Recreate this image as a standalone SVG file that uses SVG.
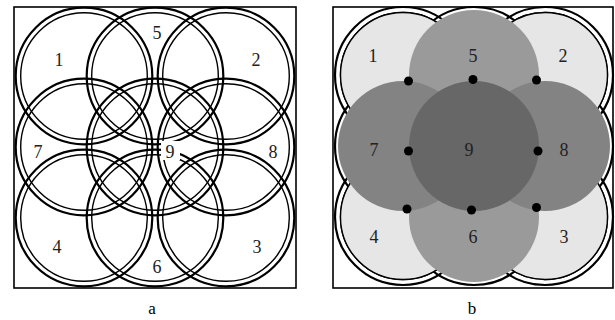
<svg xmlns="http://www.w3.org/2000/svg" width="615" height="320" viewBox="0 0 615 320">
<style>
.box{fill:none;stroke:#000;stroke-width:1.6}
.ro{fill:none;stroke:#000;stroke-width:2.2}
.ri{fill:none;stroke:#000;stroke-width:1.4}
.lbl{font-family:"Liberation Serif","Times New Roman",serif;font-size:18px;fill:#222;text-anchor:middle}
.cap{font-family:"Liberation Serif","Times New Roman",serif;font-size:17px;fill:#000;text-anchor:middle}
.corner{fill:#e6e6e6;stroke:#000;stroke-width:1.4}
.c56{fill:#9a9a9a}
.c78{fill:#838383}
.c9{fill:#676767}
.dot{fill:#000}
</style>
<rect width="615" height="320" fill="#fff"/>

<!-- Panel a -->
<g id="panel-a">
  <rect class="box" x="14" y="7" width="282" height="281"/>
  <g id="a-n1"><circle class="ro" cx="84" cy="76" r="68.3"/><circle class="ri" cx="84" cy="76" r="63.3"/></g>
  <g id="a-n5"><circle class="ro" cx="155" cy="76" r="68.3"/><circle class="ri" cx="155" cy="76" r="63.3"/></g>
  <g id="a-n2"><circle class="ro" cx="226" cy="76" r="68.3"/><circle class="ri" cx="226" cy="76" r="63.3"/></g>
  <g id="a-n7"><circle class="ro" cx="84" cy="147" r="68.3"/><circle class="ri" cx="84" cy="147" r="63.3"/></g>
  <g id="a-n9"><circle class="ro" cx="155" cy="147" r="68.3"/><circle class="ri" cx="155" cy="147" r="63.3"/></g>
  <g id="a-n8"><circle class="ro" cx="226" cy="147" r="68.3"/><circle class="ri" cx="226" cy="147" r="63.3"/></g>
  <g id="a-n4"><circle class="ro" cx="84" cy="218" r="68.3"/><circle class="ri" cx="84" cy="218" r="63.3"/></g>
  <g id="a-n6"><circle class="ro" cx="155" cy="218" r="68.3"/><circle class="ri" cx="155" cy="218" r="63.3"/></g>
  <g id="a-n3"><circle class="ro" cx="226" cy="218" r="68.3"/><circle class="ri" cx="226" cy="218" r="63.3"/></g>
  <g id="a-labels">
    <text class="lbl" x="59" y="66">1</text>
    <text class="lbl" x="157" y="39">5</text>
    <text class="lbl" x="256" y="66">2</text>
    <text class="lbl" x="38" y="158">7</text>
    <rect x="161" y="141" width="19" height="19" fill="#fff"/>
    <text class="lbl" x="170" y="158">9</text>
    <text class="lbl" x="273" y="158">8</text>
    <text class="lbl" x="57" y="253">4</text>
    <text class="lbl" x="157" y="273">6</text>
    <text class="lbl" x="257" y="253">3</text>
  </g>
  <text class="cap" x="152" y="314">a</text>
</g>

<!-- Panel b -->
<g id="panel-b">
  <rect class="box" x="333" y="7" width="280" height="281"/>
  <g id="b-rings">
    <circle class="ro" cx="403" cy="75" r="68"/><circle class="ri" cx="403" cy="75" r="62.5"/>
    <circle class="ro" cx="474" cy="75" r="68"/><circle class="ri" cx="474" cy="75" r="62.5"/>
    <circle class="ro" cx="545" cy="75" r="68"/><circle class="ri" cx="545" cy="75" r="62.5"/>
    <circle class="ro" cx="403" cy="146" r="68"/><circle class="ri" cx="403" cy="146" r="62.5"/>
    <circle class="ro" cx="474" cy="146" r="68"/><circle class="ri" cx="474" cy="146" r="62.5"/>
    <circle class="ro" cx="545" cy="146" r="68"/><circle class="ri" cx="545" cy="146" r="62.5"/>
    <circle class="ro" cx="403" cy="217" r="68"/><circle class="ri" cx="403" cy="217" r="62.5"/>
    <circle class="ro" cx="474" cy="217" r="68"/><circle class="ri" cx="474" cy="217" r="62.5"/>
    <circle class="ro" cx="545" cy="217" r="68"/><circle class="ri" cx="545" cy="217" r="62.5"/>
  </g>
  <g id="b-n1"><circle class="corner" cx="403" cy="75" r="62.5"/></g>
  <g id="b-n2"><circle class="corner" cx="545" cy="75" r="62.5"/></g>
  <g id="b-n4"><circle class="corner" cx="403" cy="217" r="62.5"/></g>
  <g id="b-n3"><circle class="corner" cx="545" cy="217" r="62.5"/></g>
  <g id="b-n5"><circle class="c56" cx="474" cy="75" r="65"/></g>
  <g id="b-n6"><circle class="c56" cx="474" cy="217" r="65"/></g>
  <g id="b-n7"><circle class="c78" cx="403" cy="146" r="65"/></g>
  <g id="b-n8"><circle class="c78" cx="545" cy="146" r="65"/></g>
  <g id="b-n9"><circle class="c9" cx="474" cy="146" r="65"/></g>
  <g id="b-dots">
    <circle class="dot" cx="408.5" cy="81" r="4.5"/>
    <circle class="dot" cx="473" cy="79.5" r="4.5"/>
    <circle class="dot" cx="536.5" cy="80" r="4.5"/>
    <circle class="dot" cx="408.5" cy="151" r="4.5"/>
    <circle class="dot" cx="538" cy="151" r="4.5"/>
    <circle class="dot" cx="407" cy="209" r="4.5"/>
    <circle class="dot" cx="471.5" cy="210" r="4.5"/>
    <circle class="dot" cx="536.5" cy="207.5" r="4.5"/>
  </g>
  <g id="b-labels">
    <text class="lbl" x="373" y="62">1</text>
    <text class="lbl" x="473" y="62">5</text>
    <text class="lbl" x="563" y="62">2</text>
    <text class="lbl" x="374" y="156">7</text>
    <text class="lbl" x="469" y="156">9</text>
    <text class="lbl" x="564" y="156">8</text>
    <text class="lbl" x="374" y="243">4</text>
    <text class="lbl" x="473" y="243">6</text>
    <text class="lbl" x="564" y="243">3</text>
  </g>
  <text class="cap" x="472" y="314">b</text>
</g>
</svg>
